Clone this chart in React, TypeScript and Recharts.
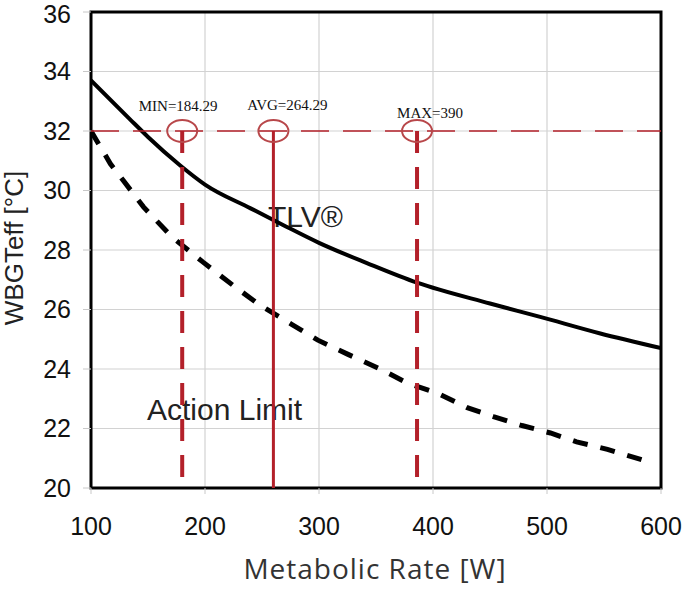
import React from 'react';
import { LineChart, Line, XAxis, YAxis, CartesianGrid, ReferenceLine, ReferenceDot, ReferenceArea } from 'recharts';

// TLV curve (solid)
const tlvRate = [100, 134, 150, 178, 200, 240, 268, 300, 342, 386, 450, 494, 546, 600];
const tlvTemp = [33.7, 32.4, 31.8, 30.85, 30.2, 29.4, 28.85, 28.24, 27.56, 26.9, 26.2, 25.75, 25.2, 24.7];

// Action limit curve (dashed)
const actionRate = [100, 117, 128, 146, 171, 198, 225, 248, 276, 299, 325, 352, 378, 403, 430, 453, 478, 503, 526, 553, 583];
const actionTemp = [32.0, 30.9, 30.35, 29.45, 28.44, 27.6, 26.8, 26.15, 25.5, 24.97, 24.5, 24.03, 23.52, 23.2, 22.7, 22.4, 22.1, 21.85, 21.55, 21.3, 20.95];

// markers on the 32 °C level
const markerLabels = ['MIN=184.29', 'AVG=264.29', 'MAX=390'];
const markerRate = [180, 260, 386];
const markerDashed = [true, false, true];
const limitLevel = 32;

const xTicks = [100, 200, 300, 400, 500, 600];
const yTicks = [20, 22, 24, 26, 28, 30, 32, 34, 36];

const tlvData = tlvRate.map((x, i) => ({ x, y: tlvTemp[i] }));
const actionData = actionRate.map((x, i) => ({ x, y: actionTemp[i] }));

const RED = '#b3202a';
const SANS = '"Liberation Sans", Arial, sans-serif';

// label offsets relative to each circle
const labelShift: Record<string, [number, number]> = {
  'MIN=184.29': [-4, -20],
  'AVG=264.29': [14, -21],
  'MAX=390': [13, -13],
};

export default function App() {
  return (
    <div style={{ position: 'absolute', left: 0, top: 0 }}>
      <LineChart width={685} height={589} margin={{ top: 12, right: 24, left: 0, bottom: 41 }}>
        <CartesianGrid stroke="#d2d2d2" strokeWidth={1.2} />
        <XAxis
          type="number"
          dataKey="x"
          domain={[100, 600]}
          ticks={xTicks}
          allowDataOverflow
          axisLine={false}
          tickLine={{ stroke: '#c8c8c8' }}
          tickSize={6}
          tickMargin={23}
          height={60}
          tick={{ fontSize: 25, fill: '#111', fontFamily: SANS }}
        />
        <YAxis
          type="number"
          domain={[20, 36]}
          ticks={yTicks}
          allowDataOverflow
          axisLine={false}
          tickLine={{ stroke: '#c8c8c8' }}
          tickSize={8}
          tickMargin={12}
          width={91}
          tick={{ fontSize: 25, fill: '#111', fontFamily: SANS }}
        />
        <text x={268} y={227} fontSize={30} fill="#222" fontFamily={SANS}>TLV®</text>
        <text x={147} y={420} fontSize={30} fill="#222" fontFamily={SANS}>Action Limit</text>
        <text
          x={23}
          y={248}
          transform="rotate(-90 23 248)"
          textAnchor="middle"
          fontSize={26}
          fill="#222"
          fontFamily={SANS}
        >
          WBGTeff [°C]
        </text>
        <text
          x={375}
          y={579}
          textAnchor="middle"
          fontSize={28}
          letterSpacing={1}
          fill="#333"
          fontFamily='"Open Sans", sans-serif'
        >
          Metabolic Rate [W]
        </text>
        <Line
          data={tlvData}
          dataKey="y"
          type="monotone"
          stroke="#000"
          strokeWidth={4}
          dot={false}
          isAnimationActive={false}
        />
        <Line
          data={actionData}
          dataKey="y"
          type="linear"
          stroke="#000"
          strokeWidth={5}
          strokeDasharray="15 13"
          dot={false}
          isAnimationActive={false}
        />
        <ReferenceLine y={limitLevel} stroke={RED} strokeWidth={1.6} strokeDasharray="28 14" />
        {markerRate.map((x, i) => (
          <ReferenceLine
            key={markerLabels[i]}
            segment={[{ x, y: limitLevel }, { x, y: 20 }]}
            stroke={RED}
            strokeWidth={markerDashed[i] ? 4 : 3}
            strokeDasharray={markerDashed[i] ? '22 14' : undefined}
          />
        ))}
        {markerRate.map((x, i) => (
          <ReferenceDot
            key={'dot' + i}
            x={x}
            y={limitLevel}
            r={12}
            shape={(p: any) => {
              const [dx, dy] = labelShift[markerLabels[i]];
              return (
                <g>
                  <ellipse cx={p.cx} cy={p.cy} rx={15} ry={11} fill="none" stroke="#b8474a" strokeWidth={2} />
                  <text
                    x={p.cx + dx}
                    y={p.cy + dy}
                    textAnchor="middle"
                    fontSize={15}
                    fill="#111"
                    fontFamily='"Liberation Serif", "Times New Roman", serif'
                  >
                    {markerLabels[i]}
                  </text>
                </g>
              );
            }}
          />
        ))}
        <ReferenceArea x1={100} x2={600} y1={20} y2={36} fill="none" stroke="#000" strokeWidth={3} />
      </LineChart>
    </div>
  );
}
